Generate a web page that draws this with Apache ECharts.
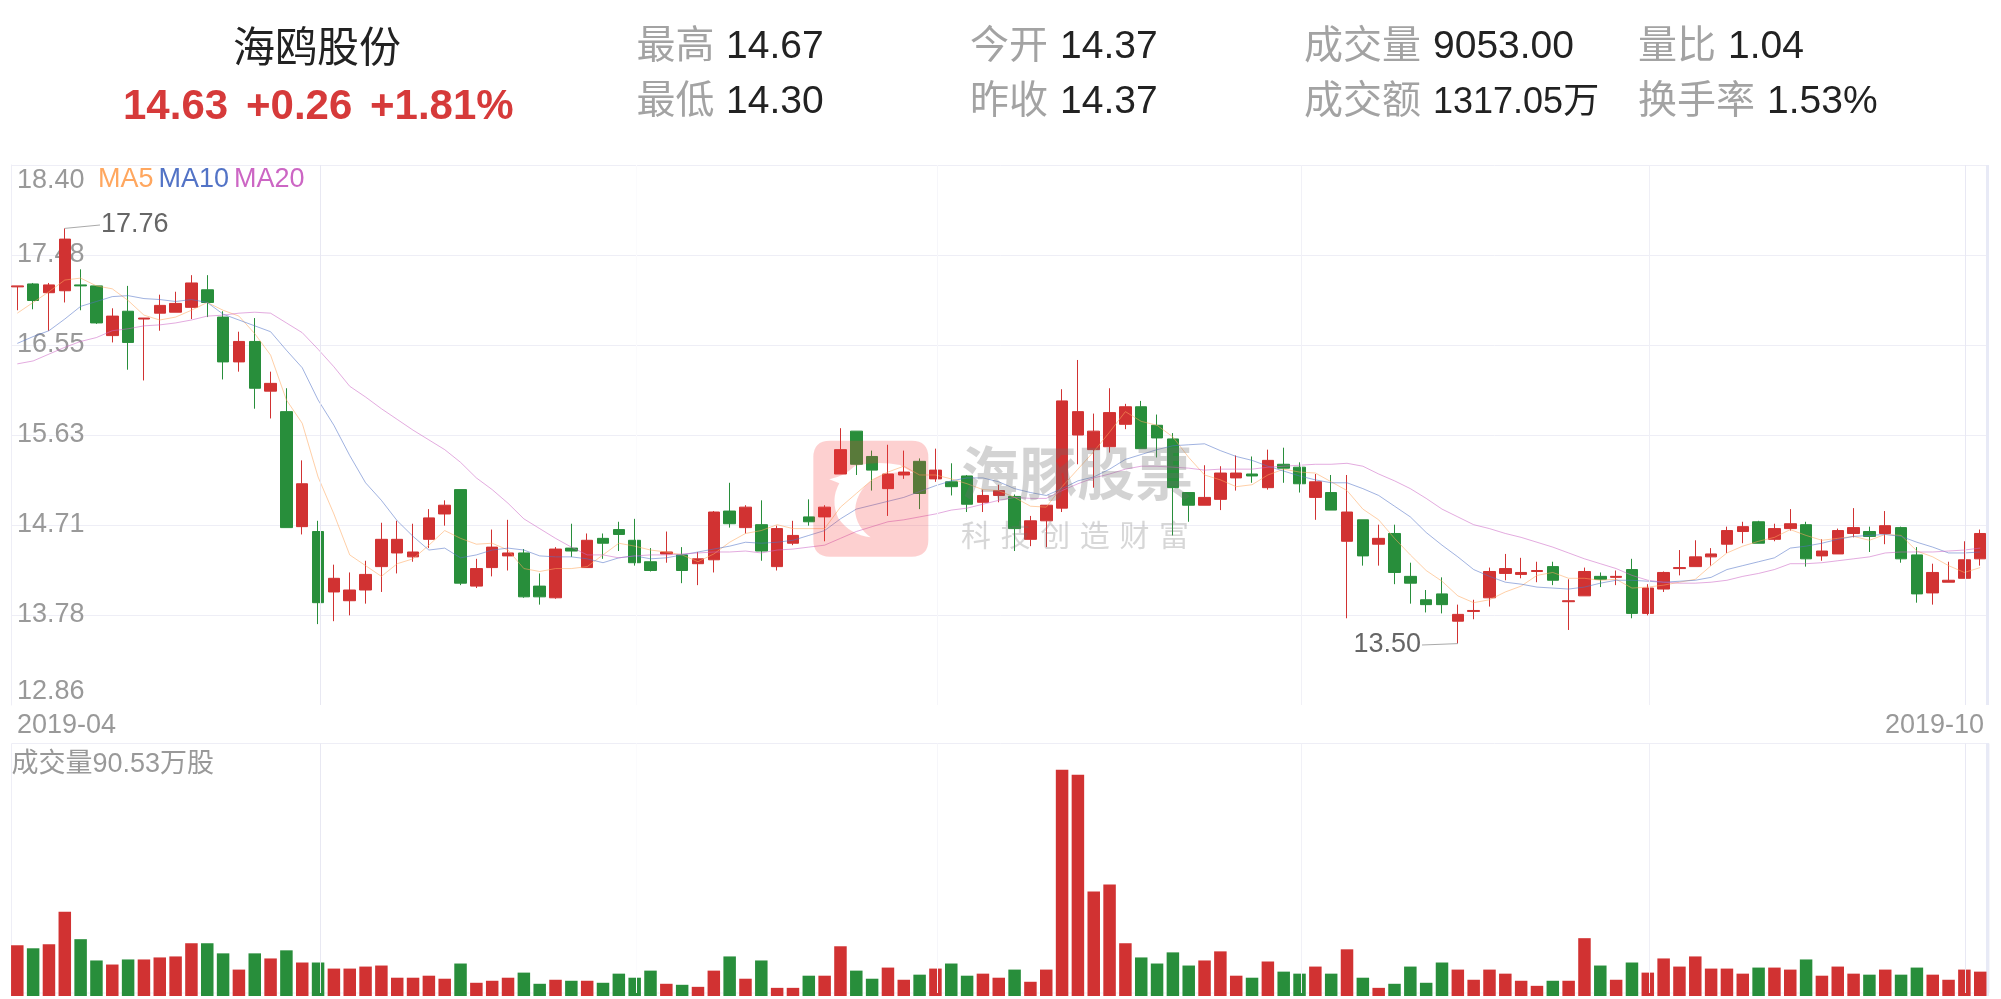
<!DOCTYPE html>
<html><head><meta charset="utf-8">
<style>html,body{margin:0;padding:0;background:#fff}#c{width:2001px;height:999px}</style>
<script src="https://cdn.jsdelivr.net/npm/echarts@6/dist/echarts.min.js"></script>
</head><body><div id="c"></div>
<script>
const opens=[17.16,17.19,17.10,17.12,17.18,17.17,16.66,16.91,16.83,16.89,
16.90,16.95,17.13,16.85,16.39,16.60,16.09,15.88,14.70,14.65,
14.03,13.94,14.05,14.29,14.43,14.39,14.57,14.83,15.08,14.09,
14.28,14.40,14.43,14.09,13.97,14.48,14.28,14.58,14.67,14.56,
14.34,14.42,14.41,14.32,14.36,14.86,14.69,14.72,14.29,14.53,
14.80,14.80,15.24,15.68,15.42,15.09,15.23,15.37,15.19,15.16,
15.22,14.95,15.02,15.01,14.57,14.76,14.89,15.64,15.49,15.52,
15.75,15.93,15.74,15.60,15.05,14.92,14.98,15.20,15.24,15.10,
15.34,15.31,15.00,15.05,14.55,14.77,14.52,14.63,14.19,13.95,
14.01,13.73,13.83,13.97,14.22,14.21,14.24,14.29,13.93,13.99,
14.19,14.18,14.26,13.81,14.06,14.27,14.29,14.39,14.52,14.65,
14.75,14.57,14.68,14.72,14.40,14.42,14.63,14.65,14.63,14.69,
14.41,14.02,14.13,14.17,14.37];
const closes=[17.17,17.02,17.18,17.65,17.17,16.79,16.86,16.59,16.84,16.97,
16.99,17.20,17.00,16.39,16.60,16.12,16.17,14.69,15.14,13.92,
14.17,14.05,14.21,14.57,14.57,14.44,14.79,14.92,14.12,14.27,
14.49,14.43,13.98,13.98,14.47,14.45,14.56,14.53,14.62,14.33,
14.25,14.44,14.25,14.37,14.85,14.73,14.90,14.45,14.68,14.61,
14.75,14.90,15.49,15.34,15.28,15.24,15.26,15.04,15.28,15.11,
14.93,15.02,15.07,14.68,14.76,14.92,15.99,15.88,15.68,15.87,
15.93,15.50,15.61,15.10,14.92,15.00,15.25,15.25,15.22,15.38,
15.30,15.14,15.16,14.87,14.85,14.40,14.58,14.23,14.12,13.90,
13.90,13.80,13.84,14.24,14.27,14.23,14.25,14.15,13.94,14.24,
14.16,14.19,13.81,14.07,14.23,14.28,14.39,14.42,14.66,14.70,
14.53,14.68,14.73,14.37,14.45,14.66,14.69,14.60,14.71,14.37,
14.01,14.23,14.15,14.36,14.63];
const lows=[16.92,16.93,16.71,17.00,16.92,16.78,16.59,16.31,16.20,16.71,
16.90,16.83,16.85,16.21,16.29,15.91,15.81,14.69,14.62,13.70,
13.73,13.79,13.91,14.03,14.22,14.34,14.48,14.71,14.10,14.07,
14.19,14.25,13.97,13.90,13.96,14.39,14.28,14.37,14.45,14.30,
14.24,14.33,14.12,14.10,14.23,14.69,14.63,14.35,14.25,14.51,
14.71,14.55,15.24,15.23,15.07,14.81,15.19,14.88,15.16,15.02,
14.85,14.85,14.95,14.45,14.50,14.49,14.85,15.34,15.10,15.46,
15.70,15.50,15.41,14.61,14.75,14.92,14.87,15.07,15.15,15.08,
15.15,15.05,14.77,14.87,13.76,14.30,14.30,14.11,13.91,13.82,
13.81,13.50,13.75,13.88,14.15,14.17,14.13,14.10,13.64,13.99,
14.08,14.10,13.76,13.79,14.03,14.20,14.29,14.30,14.43,14.53,
14.53,14.55,14.66,14.29,14.35,14.42,14.59,14.44,14.52,14.33,
13.92,13.90,14.13,14.17,14.30];
const highs=[17.17,17.20,17.20,17.76,17.34,17.17,16.94,17.17,16.84,17.08,
17.11,17.28,17.28,16.91,16.70,16.84,16.29,16.12,15.38,14.76,
14.31,14.23,14.35,14.74,14.76,14.73,14.88,14.97,15.08,14.37,
14.67,14.77,14.47,14.22,14.49,14.73,14.63,14.63,14.75,14.78,
14.48,14.65,14.49,14.44,14.86,15.15,14.92,14.97,14.71,14.76,
14.98,14.92,15.71,15.68,15.48,15.54,15.48,15.40,15.50,15.35,
15.23,15.08,15.13,15.03,14.81,14.92,16.11,16.41,15.86,16.12,
15.96,15.99,15.85,15.66,15.05,15.33,15.32,15.43,15.42,15.49,
15.51,15.36,15.24,15.23,15.23,14.77,14.72,14.72,14.33,14.05,
14.18,13.90,13.95,14.28,14.42,14.38,14.34,14.34,14.16,14.28,
14.23,14.25,14.37,14.11,14.24,14.46,14.56,14.48,14.70,14.75,
14.76,14.73,14.88,14.75,14.57,14.68,14.89,14.70,14.86,14.70,
14.49,14.32,14.34,14.55,14.67];
const ma5=[16.89,17.00,17.11,17.23,17.25,17.17,17.14,17.02,16.87,16.82,
16.85,16.92,17.00,16.92,16.86,16.68,16.46,16.00,15.76,15.21,
14.83,14.41,14.30,14.19,14.32,14.37,14.51,14.66,14.58,14.52,
14.53,14.46,14.27,14.24,14.27,14.27,14.29,14.41,14.53,14.50,
14.46,14.44,14.41,14.34,14.42,14.54,14.63,14.66,14.72,14.68,
14.68,14.68,14.90,15.04,15.18,15.26,15.32,15.23,15.23,15.19,
15.14,15.08,15.07,15.00,14.91,14.90,15.11,15.29,15.47,15.67,
15.88,15.78,15.74,15.62,15.41,15.23,15.18,15.11,15.13,15.23,
15.29,15.26,15.25,15.16,15.07,14.88,14.77,14.58,14.41,14.25,
14.14,13.99,13.92,13.95,14.03,14.09,14.20,14.23,14.17,14.17,
14.15,14.16,14.07,14.08,14.10,14.13,14.16,14.30,14.43,14.50,
14.55,14.59,14.67,14.61,14.56,14.58,14.60,14.56,14.62,14.61,
14.45,14.39,14.30,14.23,14.28];
const ma10=[16.58,16.65,16.71,16.83,16.96,17.01,17.06,17.07,17.04,17.03,
17.01,17.03,17.00,16.88,16.82,16.76,16.70,16.51,16.33,16.00,
15.74,15.43,15.15,14.97,14.76,14.60,14.46,14.48,14.38,14.41,
14.46,14.48,14.46,14.40,14.39,14.39,14.37,14.33,14.38,14.40,
14.37,14.38,14.41,14.44,14.47,14.50,14.54,14.53,14.54,14.56,
14.61,14.66,14.78,14.88,14.92,14.96,15.00,15.06,15.12,15.17,
15.20,15.20,15.16,15.09,15.05,15.02,15.09,15.17,15.21,15.29,
15.39,15.44,15.49,15.53,15.54,15.55,15.48,15.42,15.38,15.32,
15.27,15.22,15.18,15.15,15.15,15.09,15.02,14.91,14.80,14.64,
14.51,14.39,14.26,14.19,14.13,14.11,14.08,14.07,14.06,14.08,
14.12,14.15,14.15,14.14,14.13,14.14,14.15,14.18,14.26,14.30,
14.34,14.38,14.48,14.50,14.53,14.57,14.60,14.61,14.62,14.60,
14.54,14.49,14.43,14.43,14.44];
const ma20=[16.37,16.40,16.47,16.54,16.60,16.64,16.71,16.73,16.76,16.77,
16.79,16.82,16.86,16.87,16.89,16.90,16.89,16.79,16.69,16.52,
16.34,16.14,16.03,15.91,15.80,15.69,15.59,15.49,15.36,15.20,
15.08,14.94,14.78,14.68,14.58,14.49,14.41,14.41,14.38,14.40,
14.41,14.41,14.42,14.43,14.44,14.44,14.45,14.43,14.46,14.47,
14.49,14.51,14.58,14.65,14.70,14.75,14.77,14.80,14.83,14.87,
14.89,14.93,14.97,15.00,14.99,14.99,15.07,15.14,15.20,15.24,
15.29,15.32,15.32,15.31,15.30,15.28,15.29,15.29,15.29,15.31,
15.32,15.33,15.34,15.34,15.35,15.32,15.24,15.17,15.09,14.99,
14.88,14.80,14.72,14.68,14.63,14.59,14.54,14.49,14.43,14.37,
14.32,14.27,14.20,14.15,14.13,14.12,14.12,14.13,14.15,14.19,
14.22,14.26,14.32,14.32,14.33,14.35,14.37,14.39,14.43,14.44,
14.44,14.44,14.45,14.46,14.48];
const volumes=[18.12,17.04,18.48,30.07,20.29,12.69,11.24,13.05,13.05,13.77,
14.13,18.84,18.84,15.23,9.43,15.23,13.41,16.31,11.96,11.96,
9.79,9.79,10.51,10.88,6.53,6.53,7.25,6.17,11.60,4.72,
5.44,6.53,8.35,4.36,5.80,5.44,5.44,4.72,7.98,6.53,
9.06,4.36,4.00,3.27,9.06,14.13,6.17,12.69,2.91,2.91,
7.25,7.25,17.76,9.06,6.17,10.15,5.80,7.62,9.79,11.60,
7.25,7.98,6.53,9.43,5.08,9.43,80.78,78.97,37.32,39.85,
18.84,13.77,11.60,15.58,10.88,12.69,15.94,7.25,6.53,12.32,
8.70,7.98,10.51,7.98,16.67,6.53,2.91,4.36,10.51,4.72,
11.96,9.43,5.80,9.43,7.98,5.44,3.63,5.44,5.44,20.65,
10.88,5.80,11.96,8.35,13.41,10.51,14.13,9.79,9.79,7.98,
10.15,10.15,9.43,13.05,7.25,10.51,7.98,7.62,9.43,7.62,
10.15,7.62,5.80,9.43,8.70];
const priceTicks=['12.86','13.78','14.71','15.63','16.55','17.48','18.40'];
const dateTicks=['2019-04','2019-10'];
const monthStartIdx=[19,39,58,81,103,123];
const monthLineColors=['#e8e8f2','#fbfbfd','#f6f6fa','#f1f1f7','#efeff6','#e8e8f4'];
const maNames=['MA5','MA10','MA20'];
const maColors=['#ffa75f','#5273c6','#cc66c4'];
const volMaxWan=90.53, priceMin=12.86, priceMax=18.40;
const RED='#d13232', GREEN='#288e3b';
const categories=opens.map((_,i)=>'d'+i);
const cats=categories;
const empty=categories.map(()=>null);

const headerLabels=[['最高',636.5,47],['最低',636.5,102],['今开',970,47],['昨收',970,102],['成交量',1304,47],['成交额',1304,102],['量比',1638,47],['换手率',1638,102]];
const headerValues=[['14.67',726,47,39],['14.30',726,102,39],['14.37',1060,47,39],['14.37',1060,102,39],['9053.00',1433,47,39],['1317.05万',1433,103,36],['1.04',1728,47,39],['1.53%',1767,102,39]];
const quote=[['14.63',123],['+0.26',246],['+1.81%',370]];
const FF='"Liberation Sans","Noto Sans CJK SC",sans-serif';
echarts.graphic.registerShape('wmBadge',echarts.graphic.extendShape({
 shape:{},
 buildPath(ctx){
  ctx.moveTo(90,32);ctx.lineTo(335,32);ctx.quadraticCurveTo(385,32,385,82);ctx.lineTo(385,330);ctx.quadraticCurveTo(385,380,335,380);
  ctx.lineTo(90,380);ctx.quadraticCurveTo(40,380,40,330);ctx.lineTo(40,82);ctx.quadraticCurveTo(40,32,90,32);ctx.closePath();
  ctx.moveTo(88,148);ctx.lineTo(118,160);ctx.quadraticCurveTo(90,210,115,265);ctx.quadraticCurveTo(150,315,212,322);
  ctx.quadraticCurveTo(168,290,165,240);ctx.quadraticCurveTo(170,170,240,138);ctx.quadraticCurveTo(290,120,340,130);
  ctx.lineTo(300,105);ctx.quadraticCurveTo(230,92,165,108);ctx.quadraticCurveTo(130,140,88,148);ctx.closePath();
 }
}));
function txt(text,x,y,size,fill,extra){return {type:'text',z:50,x,y,silent:true,style:Object.assign({text,fontSize:size,fontFamily:FF,fill,align:'left',verticalAlign:'middle'},extra||{})};}
const graphics=[
 txt('海鸥股份',317,50,42,'#222',{align:'center'}),
 ...quote.map(q=>txt(q[0],q[1],107,42,'#d63a3a',{fontWeight:'bold'})),
 ...headerLabels.map(l=>txt(l[0],l[1],l[2],39,'#a3a3a3')),
 ...headerValues.map(v=>txt(v[0],v[1],v[2],v[3],'#222')),
 txt('成交量90.53万股',11.5,765,27,'#999'),
 {type:'rect',z:3,silent:true,shape:{x:1986,y:165,width:3,height:540},style:{fill:'#e8eaf6'}},
 {type:'rect',z:3,silent:true,shape:{x:1986,y:743,width:3,height:253},style:{fill:'#e8eaf6'}},
 {type:'wmBadge',z:60,silent:true,x:800,y:430,scaleX:1/3,scaleY:1/3,shape:{},style:{fill:'rgba(245,60,60,0.24)'}},
 txt('海豚股票',961,473,58,'rgba(110,110,110,0.3)',{fontWeight:'bold',fontFamily:'"Noto Sans CJK SC",sans-serif'}),
 ...Array.from('科技创造财富').map((c,i)=>txt(c,961+i*39.6,535,30,'rgba(110,110,110,0.28)',{fontFamily:'"Noto Sans CJK SC",sans-serif'}))
];

const FL=11.5, FW=1977.5, BAND=15.83, CL=17.3-BAND/2;
const PT=165, PH=540, VT=742.5;
const monthMark=()=>({symbol:'none',silent:true,animation:false,label:{show:false},
  data:monthStartIdx.map((k,i)=>({xAxis:cats[k],lineStyle:{color:monthLineColors[i],width:1,type:'solid'}}))});

const option={
 animation:false,backgroundColor:'#fff',
 textStyle:{fontFamily:FF},
 graphic:graphics,
 legend:{left:93,top:166,icon:'none',itemWidth:0,itemHeight:0,itemGap:0,padding:0,selectedMode:false,
  data:maNames.map((n,i)=>({name:n,textStyle:{color:maColors[i],fontSize:27,fontFamily:FF}}))},
 grid:[
  {left:FL,width:FW,top:PT,height:PH},
  {left:CL,width:BAND*125,top:PT+1,height:PH},
  {left:FL,width:FW,top:743.5,height:249.5,show:true,borderColor:'#eeeef6',borderWidth:1,backgroundColor:'transparent'},
  {left:CL,width:BAND*125,top:VT,height:253.5},
  {left:17,right:17,top:PT+PH,height:1}
 ],
 xAxis:[
  {type:'category',gridIndex:0,data:cats,show:false},
  {type:'category',gridIndex:1,data:cats,show:false},
  {type:'category',gridIndex:2,data:cats,show:false},
  {type:'category',gridIndex:3,data:cats,show:false},
  {type:'category',gridIndex:4,data:dateTicks,boundaryGap:false,axisLine:{show:false},axisTick:{show:false},
   axisLabel:{show:true,interval:0,margin:6,color:'#999',fontSize:27,fontFamily:FF,alignMinLabel:'left',alignMaxLabel:'right'}}
 ],
 yAxis:[
  {type:'category',gridIndex:0,data:priceTicks,boundaryGap:false,axisLine:{show:true,lineStyle:{color:'#eeeef6',width:1}},axisTick:{show:false},
   splitLine:{show:true,interval:0,showMinLine:false,lineStyle:{color:'#eeeef6',width:1}},
   axisLabel:{show:true,inside:true,interval:0,margin:5.5,color:'#999',fontSize:27,fontFamily:FF,align:'left',verticalAlignMinLabel:'bottom',verticalAlignMaxLabel:'top',
    formatter:v=>v===priceTicks[priceTicks.length-1]?'{top|'+v+'}':v,
    rich:{top:{padding:[2,0,0,0],color:'#999',fontSize:27,fontFamily:FF}}}},
  {type:'value',gridIndex:1,min:priceMin,max:priceMax,show:false,splitLine:{show:false}},
  {type:'value',gridIndex:2,min:0,max:1,show:false,splitLine:{show:false}},
  {type:'value',gridIndex:3,min:0,max:volMaxWan,show:false,splitLine:{show:false}},
  {type:'value',gridIndex:4,show:false,splitLine:{show:false}}
 ],
 series:[
  {type:'line',name:'priceFrame',xAxisIndex:0,yAxisIndex:0,data:empty,symbol:'none',silent:true,markLine:monthMark(),z:1},
  {type:'line',name:'volFrame',xAxisIndex:2,yAxisIndex:2,data:empty,symbol:'none',silent:true,markLine:monthMark(),z:1},
  {type:'candlestick',name:'K',xAxisIndex:1,yAxisIndex:1,barWidth:12,z:3,
   itemStyle:{color:RED,color0:GREEN,borderColor:RED,borderColor0:GREEN,borderWidth:1},
   data:opens.map((o,i)=>[o,closes[i],lows[i],highs[i]]),
   markLine:{symbol:'none',silent:true,animation:false,lineStyle:{color:'#aaa',width:1,type:'solid'},
    label:{show:true,position:'end',distance:1,color:'#666',fontSize:27,fontFamily:FF},
    data:[
     [{coord:[cats[3],17.76],label:{formatter:'17.76'}},{x:100,y:225}],
     [{coord:[cats[91],13.50],label:{formatter:'13.50'}},{x:1422,y:645}]
    ]}},
  ...[ma5,ma10,ma20].map((d,i)=>({type:'line',name:maNames[i],xAxisIndex:1,yAxisIndex:1,data:d,symbol:'none',showSymbol:false,z:4,
   lineStyle:{color:maColors[i],width:1,opacity:0.55},itemStyle:{color:maColors[i]}})),
  {type:'bar',name:'volume',xAxisIndex:3,yAxisIndex:3,barWidth:12.5,z:3,
   data:volumes.map((v,i)=>({value:v,itemStyle:{color:closes[i]>=opens[i]?RED:GREEN}}))}
 ]
};
const chart=echarts.init(document.getElementById('c'),null,{renderer:'canvas'});
chart.setOption(option);
</script></body></html>
